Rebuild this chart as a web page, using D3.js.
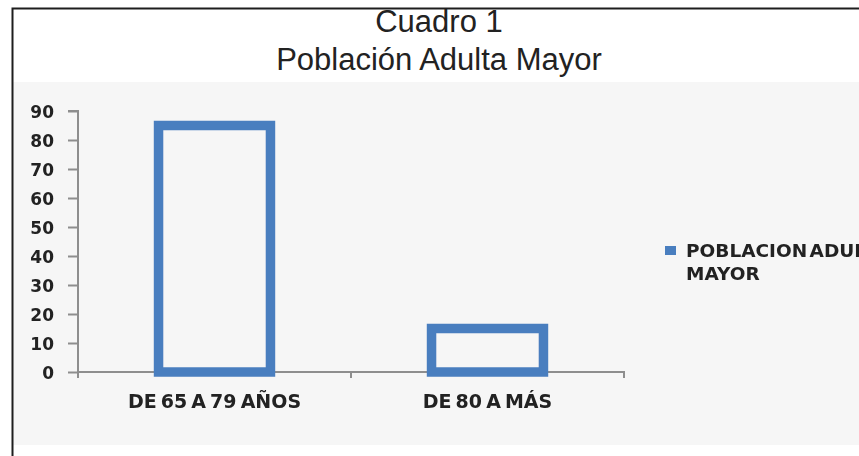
<!DOCTYPE html>
<html>
<head>
<meta charset="utf-8">
<script src="https://cdn.jsdelivr.net/npm/d3@7"></script>
<style>
  html, body { margin: 0; padding: 0; background: #ffffff; }
  svg { display: block; }
</style>
</head>
<body>
<div id="chart"></div>
<script>
// Chart data
const titleLines = ["Cuadro 1", "Población Adulta Mayor"];
const categories = ["DE 65 A 79 AÑOS", "DE 80 A MÁS"];
const values = [85, 15];
const yTicks = [0, 10, 20, 30, 40, 50, 60, 70, 80, 90];
const seriesName = ["POBLACION ADULTA", "MAYOR"];

const W = 859, H = 456;
const blue = "#4a7ebf";
const axisGrey = "#8e8e8e";
const labelInk = "#222";

const svg = d3.select("#chart").append("svg")
  .attr("width", W).attr("height", H);

const defs = svg.append("defs");
defs.append("filter").attr("id", "soft")
  .append("feGaussianBlur").attr("stdDeviation", 0.55);

// page
svg.append("rect").attr("x", 0).attr("y", 0).attr("width", W).attr("height", H).attr("fill", "#fff");

// chart panel background
svg.append("rect")
  .attr("x", 13).attr("y", 82).attr("width", W - 13).attr("height", 363)
  .attr("fill", "#f6f6f6");

// frame border (left and top)
svg.append("path")
  .attr("d", `M12.5,${H} V8.5 H${W}`)
  .attr("fill", "none").attr("stroke", "#1e1e1e").attr("stroke-width", 2);

// title
svg.append("g").selectAll("text").data(titleLines).join("text")
  .attr("x", 439).attr("y", (d, i) => 32 + i * 38)
  .attr("text-anchor", "middle")
  .attr("font-family", "'Liberation Sans', Arial, sans-serif")
  .attr("font-size", 31)
  .attr("fill", "#222")
  .text(d => d);

// plot
const plot = svg.append("g").attr("filter", "url(#soft)");

const x = d3.scaleBand().domain(categories).range([78, 624]).padding(0);
const y = d3.scaleLinear().domain([0, 90]).range([372, 111]);

// y axis
const yAxis = d3.axisLeft(y).tickValues(yTicks).tickSize(10).tickPadding(14);
const gy = plot.append("g").attr("transform", "translate(78,0)").call(yAxis);
gy.select(".domain").attr("stroke", axisGrey).attr("stroke-width", 2)
  .attr("d", `M-10,${y(90)}H0V${y(0) + 6}`);
gy.selectAll(".tick line").attr("stroke", axisGrey).attr("stroke-width", 2);
gy.selectAll(".tick text")
  .attr("font-family", "'DejaVu Sans', sans-serif")
  .attr("font-weight", "bold")
  .attr("font-size", 17)
  .attr("fill", labelInk)
  .attr("dy", "0.36em");

// x axis (ticks between categories)
const gx = plot.append("g");
gx.append("line")
  .attr("x1", x.range()[0]).attr("x2", x.range()[1])
  .attr("y1", y(0)).attr("y2", y(0))
  .attr("stroke", axisGrey).attr("stroke-width", 2);
const bounds = categories.map(c => x(c)).concat([x(categories[categories.length - 1]) + x.bandwidth()]);
gx.selectAll("line.tk").data(bounds.slice(1)).join("line")
  .attr("class", "tk")
  .attr("x1", d => d).attr("x2", d => d)
  .attr("y1", y(0) - 1).attr("y2", y(0) + 6)
  .attr("stroke", axisGrey).attr("stroke-width", 2);
gx.selectAll("text").data(categories).join("text")
  .attr("x", d => x(d) + x.bandwidth() / 2)
  .attr("y", 408)
  .attr("text-anchor", "middle")
  .attr("font-family", "'DejaVu Sans', sans-serif")
  .attr("font-weight", "bold")
  .attr("font-size", 19)
  .attr("word-spacing", -2.5)
  .attr("fill", labelInk)
  .text(d => d);

// bars (outlined)
const barW = x.bandwidth() * 0.41;
plot.selectAll("rect.bar").data(values).join("rect")
  .attr("class", "bar")
  .attr("x", (d, i) => x(categories[i]) + (x.bandwidth() - barW) / 2)
  .attr("y", d => y(d))
  .attr("width", barW)
  .attr("height", d => y(0) - y(d))
  .attr("fill", "none")
  .attr("stroke", blue)
  .attr("stroke-width", 9.5);

// legend
const lg = plot.append("g");
lg.append("rect").attr("x", 665).attr("y", 246).attr("width", 11).attr("height", 9).attr("fill", blue);
lg.selectAll("text").data(seriesName).join("text")
  .attr("x", 686).attr("y", (d, i) => 257 + i * 23)
  .attr("font-family", "'DejaVu Sans', sans-serif")
  .attr("font-weight", "bold")
  .attr("font-size", 18.5)
  .attr("word-spacing", -4)
  .attr("fill", labelInk)
  .text(d => d);
</script>
</body>
</html>
